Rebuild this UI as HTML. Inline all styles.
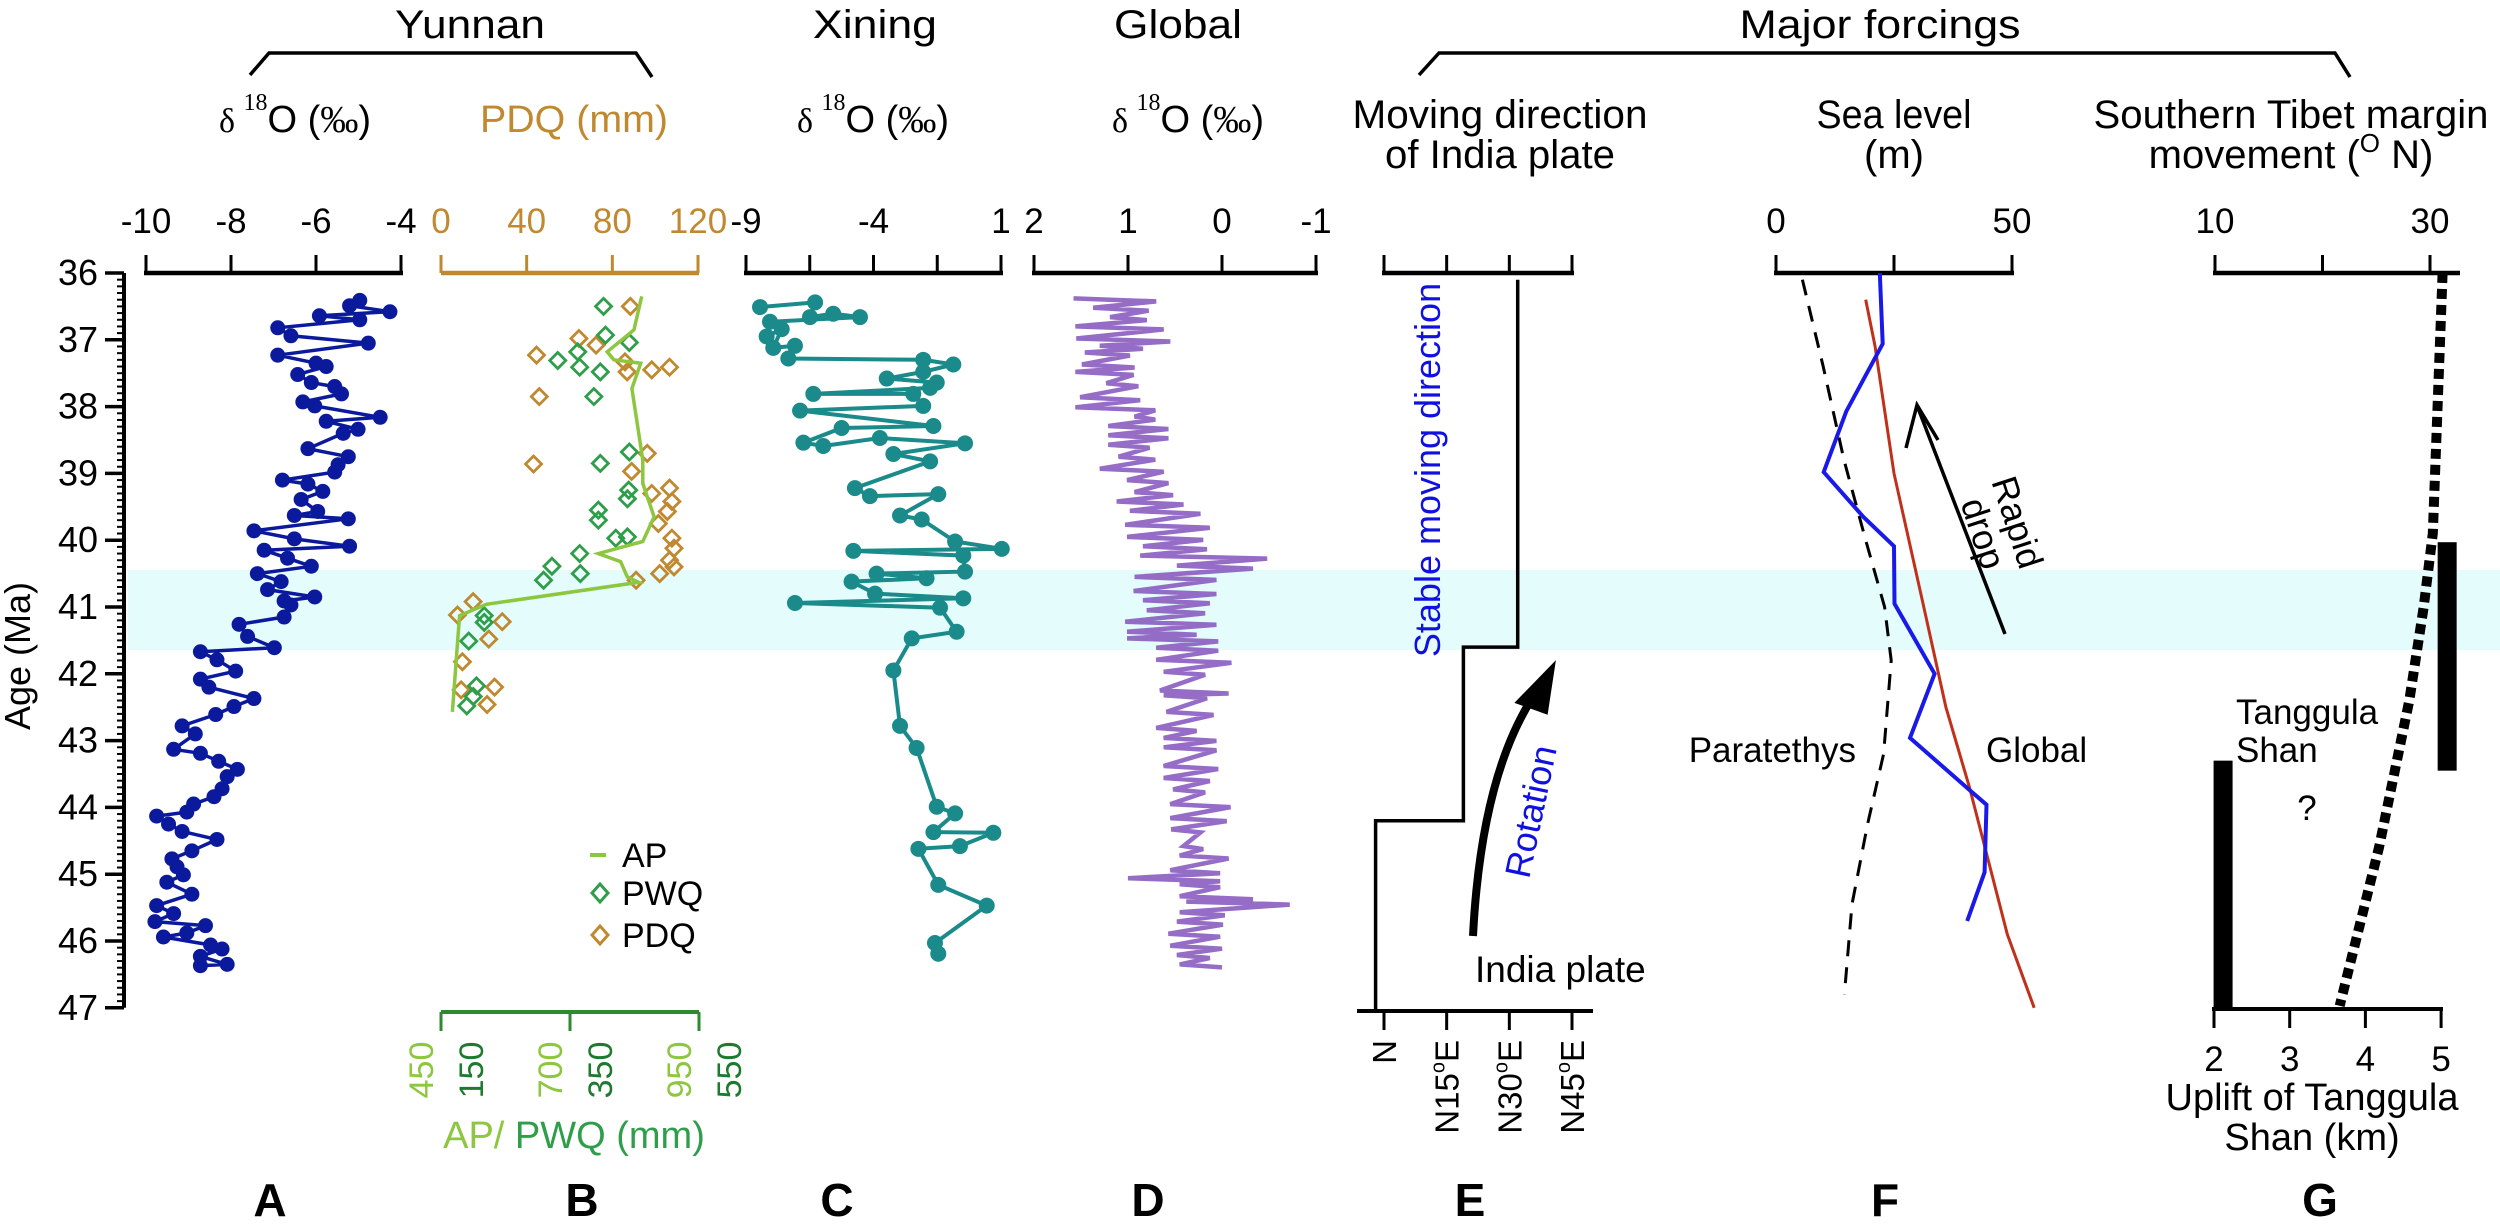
<!DOCTYPE html>
<html><head><meta charset="utf-8"><style>
html,body{margin:0;padding:0;background:#fff}
svg{display:block;font-family:"Liberation Sans",Arial,sans-serif}
.t{font-size:40px;fill:#000}
.tk{font-size:35px;fill:#000}
.lt{font-size:46px;font-weight:bold;fill:#000}
</style></head><body>
<svg id="chart" width="2500" height="1225" viewBox="0 0 2500 1225" xmlns="http://www.w3.org/2000/svg">
<rect x="128" y="570" width="2372" height="80" fill="#e4fcfc"/>
<g>
<text class="t" x="470" y="38" text-anchor="middle" textLength="150" lengthAdjust="spacingAndGlyphs">Yunnan</text>
<path d="M250,75 L269,53 L636,53 L652,77" fill="none" stroke="#000" stroke-width="3.5"/>
<text class="t" x="875" y="38" text-anchor="middle" textLength="124" lengthAdjust="spacingAndGlyphs">Xining</text>
<text class="t" x="1178" y="38" text-anchor="middle" textLength="128" lengthAdjust="spacingAndGlyphs">Global</text>
<text class="t" x="1880" y="38" text-anchor="middle" textLength="281" lengthAdjust="spacingAndGlyphs">Major forcings</text>
<path d="M1419,75 L1439,53 L2335,53 L2350,77" fill="none" stroke="#000" stroke-width="3.5"/>
<text x="295" y="132" text-anchor="middle" font-size="38"><tspan font-family="Liberation Serif" font-size="34">δ </tspan><tspan font-family="Liberation Serif" font-size="24" dy="-22">18</tspan><tspan dy="22">O (</tspan><tspan font-family="Liberation Serif">‰</tspan>)</text>
<text x="574" y="132" text-anchor="middle" font-size="38" fill="#c08930" textLength="188" lengthAdjust="spacingAndGlyphs">PDQ (mm)</text>
<text x="873" y="132" text-anchor="middle" font-size="38"><tspan font-family="Liberation Serif" font-size="34">δ </tspan><tspan font-family="Liberation Serif" font-size="24" dy="-22">18</tspan><tspan dy="22">O (</tspan><tspan font-family="Liberation Serif">‰</tspan>)</text>
<text x="1188" y="132" text-anchor="middle" font-size="38"><tspan font-family="Liberation Serif" font-size="34">δ </tspan><tspan font-family="Liberation Serif" font-size="24" dy="-22">18</tspan><tspan dy="22">O (</tspan><tspan font-family="Liberation Serif">‰</tspan>)</text>
<text class="t" x="1500" y="128" text-anchor="middle" textLength="295" lengthAdjust="spacingAndGlyphs">Moving direction</text>
<text class="t" x="1500" y="168" text-anchor="middle" textLength="230" lengthAdjust="spacingAndGlyphs">of India plate</text>
<text class="t" x="1894" y="128" text-anchor="middle" textLength="155" lengthAdjust="spacingAndGlyphs">Sea level</text>
<text class="t" x="1894" y="168" text-anchor="middle">(m)</text>
<text class="t" x="2291" y="128" text-anchor="middle" textLength="395" lengthAdjust="spacingAndGlyphs">Southern Tibet margin</text>
<text class="t" x="2291" y="168" text-anchor="middle">movement (<tspan font-size="26" dy="-16">O</tspan><tspan dy="16"> N)</tspan></text>
</g>
<g id="axes"></g>
<g id="marks"></g>
<g>
<text x="30" y="656" font-size="36" text-anchor="middle" transform="rotate(-90 30 656)">Age (Ma)</text>
<text x="1440" y="470" font-size="36" fill="#1010e0" text-anchor="middle" transform="rotate(-90 1440 470)">Stable moving direction</text>
<text x="1543" y="814" font-size="36" fill="#1010e0" text-anchor="middle" transform="rotate(-78 1543 814)">Rotation</text>
<path d="M1473,936 Q1482,760 1545,680" fill="none" stroke="#000" stroke-width="8"/>
<path d="M1553,666 L1518,702 L1546,712 Z" fill="#000" stroke="#000" stroke-width="4"/>
<text x="1475" y="982" font-size="37">India plate</text>
<line x1="2005" y1="634" x2="1918" y2="408" stroke="#000" stroke-width="3.5"/>
<path d="M1906,448 L1917,405 L1938,440" fill="none" stroke="#000" stroke-width="3.5"/>
<g transform="translate(2000,528) rotate(72)"><text x="0" y="-6" font-size="36" text-anchor="middle">Rapid</text><text x="0" y="30" font-size="36" text-anchor="middle">drop</text></g>
<text x="1856" y="762" font-size="35" text-anchor="end">Paratethys</text>
<text x="1986" y="762" font-size="35">Global</text>
<text x="2236" y="724" font-size="35">Tanggula</text>
<text x="2236" y="762" font-size="35">Shan</text>
<text x="2307" y="820" font-size="35" text-anchor="middle">?</text>
<text x="574" y="1148" font-size="38" text-anchor="middle"><tspan fill="#8dc63f">AP/ </tspan><tspan fill="#2e9e4a">PWQ (mm)</tspan></text>
<text x="2312" y="1110" font-size="38" text-anchor="middle">Uplift of Tanggula</text>
<text x="2312" y="1150" font-size="38" text-anchor="middle">Shan (km)</text>
<line x1="590" y1="855" x2="606" y2="855" stroke="#8dc63f" stroke-width="4"/>
<text x="622" y="867" font-size="34">AP</text>
<path d="M600,884 L608,893 L600,902 L592,893 Z" fill="none" stroke="#2e9e4a" stroke-width="3"/>
<text x="622" y="905" font-size="34">PWQ</text>
<path d="M600,926 L608,935 L600,944 L592,935 Z" fill="none" stroke="#c08930" stroke-width="3"/>
<text x="622" y="947" font-size="34">PDQ</text>
<text class="lt" x="270" y="1216" text-anchor="middle">A</text>
<text class="lt" x="582" y="1216" text-anchor="middle">B</text>
<text class="lt" x="837" y="1216" text-anchor="middle">C</text>
<text class="lt" x="1148" y="1216" text-anchor="middle">D</text>
<text class="lt" x="1470" y="1216" text-anchor="middle">E</text>
<text class="lt" x="1885" y="1216" text-anchor="middle">F</text>
<text class="lt" x="2320" y="1216" text-anchor="middle">G</text>
</g>
</svg>
<script>
// ---- data ----
const ageTicks=[36,37,38,39,40,41,42,43,44,45,46,47];
const aTicks=[-10,-8,-6,-4];
const pdqTicks=[0,40,80,120];
const cTicks=[-9,-6.5,-4,-1.5,1];
const cLabels=[-9,-4,1];
const dTicks=[2,1,0,-1];
const eTicks=[0,15,30,45];
const fTicks=[0,25,50];
const fLabels=[0,50];
const gTicks=[10,20,30];
const gLabels=[10,30];
const kmTicks=[2,3,4,5];
const apLabels=[450,700,950];
const pwqLabels=[150,350,550];

const aAge=[36.41,36.49,36.58,36.64,36.70,36.82,36.94,37.05,37.23,37.35,37.40,37.52,37.64,37.70,37.81,37.93,37.99,38.16,38.22,38.34,38.40,38.63,38.75,38.87,38.98,39.10,39.16,39.27,39.39,39.57,39.63,39.68,39.86,39.98,40.09,40.15,40.27,40.39,40.50,40.62,40.74,40.85,40.91,40.97,41.15,41.26,41.44,41.61,41.67,41.79,41.96,42.08,42.20,42.37,42.49,42.61,42.78,42.90,43.13,43.19,43.31,43.43,43.54,43.72,43.84,43.95,44.07,44.13,44.25,44.36,44.48,44.65,44.77,44.89,45.01,45.12,45.30,45.47,45.59,45.71,45.77,45.88,45.94,46.06,46.12,46.23,46.35,46.37];
const aVal=[-4.97,-5.21,-4.26,-5.92,-4.97,-6.90,-6.59,-4.77,-6.90,-6.00,-5.76,-6.43,-6.11,-5.56,-5.40,-6.31,-6.03,-4.49,-5.76,-5.01,-5.36,-6.19,-5.24,-5.48,-5.56,-6.79,-6.19,-5.84,-6.35,-5.96,-6.51,-5.24,-7.46,-6.51,-5.21,-7.22,-6.67,-6.11,-7.38,-6.82,-7.14,-6.03,-6.75,-6.59,-6.75,-7.81,-7.61,-6.98,-8.72,-8.33,-7.89,-8.72,-8.52,-7.46,-7.93,-8.36,-9.15,-8.84,-9.35,-8.72,-8.29,-7.85,-8.09,-8.21,-8.40,-8.88,-9.04,-9.75,-9.47,-9.15,-8.33,-8.92,-9.39,-9.27,-9.12,-9.51,-8.92,-9.75,-9.35,-9.79,-8.60,-9.04,-9.59,-8.48,-8.21,-8.72,-8.09,-8.72];

const pdqAge=[36.50,36.98,37.08,37.23,37.33,37.48,37.45,37.41,37.85,38.70,38.86,38.97,39.30,39.22,39.42,39.57,39.75,39.97,40.12,40.30,40.50,40.40,40.60,40.92,41.12,41.22,41.48,41.82,42.24,42.20,42.46];
const pdqVal=[88.4,64.4,72.4,44.6,85.9,86.9,98.4,106.7,45.9,96.3,43.2,89.0,98.4,106.7,107.8,105.7,101.5,107.8,108.8,106.7,102.1,108.8,91.1,15.0,7.7,28.6,22.3,10.0,9.4,25.0,21.5];
const pwqAge=[36.50,36.93,37.04,37.18,37.31,37.41,37.48,37.85,38.68,38.85,39.25,39.38,39.55,39.70,39.97,39.95,40.20,40.39,40.60,40.50,41.13,41.23,41.51,42.18,42.48,42.34];
const pwqVal=[402,405,442,362,331,365,397,387,442,397,441,439,394,394,421,439,365,322,309,366,217,217,193,205,190,200];
const apAge=[36.35,36.85,37.18,37.30,37.35,37.73,38.80,39.15,39.65,40.02,40.20,40.32,40.55,40.63,40.96,41.13,41.44,42.57];
const apVal=[839,824,772,785,837,820,841,841,863,841,755,798,811,833,538,486,483,472];

const cAge=[36.51,36.44,36.66,36.61,36.66,36.73,36.95,36.84,37.12,37.09,37.28,37.30,37.37,37.48,37.58,37.64,37.72,37.81,37.81,37.99,38.06,38.29,38.32,38.54,38.59,38.47,38.55,38.71,38.82,39.22,39.34,39.31,39.63,39.69,40.02,40.13,40.16,40.23,40.47,40.50,40.57,40.62,40.80,40.87,40.94,41.01,41.37,41.47,41.95,42.78,43.11,43.99,44.09,44.37,44.38,44.58,44.62,45.16,45.47,46.03,46.19];
const cVal=[-8.45,-6.29,-6.49,-5.58,-4.53,-8.06,-8.19,-7.60,-7.93,-7.08,-7.34,-2.05,-0.87,-2.05,-3.48,-1.52,-1.78,-6.36,-2.44,-2.05,-6.88,-1.65,-5.25,-6.75,-5.97,-3.75,-0.41,-3.22,-1.78,-4.73,-4.14,-1.46,-2.96,-2.11,-0.80,1.03,-4.79,-0.48,-0.41,-3.88,-1.92,-4.86,-3.94,-0.48,-7.08,-1.39,-0.74,-2.50,-3.22,-2.96,-2.31,-1.52,-0.80,-1.65,0.70,-0.61,-2.24,-1.46,0.44,-1.59,-1.46];

const dAge=[36.38,36.52,36.66,36.80,36.98,37.09,37.19,37.37,37.48,37.65,37.86,38.01,38.15,38.29,38.43,38.57,38.75,38.93,39.10,39.28,39.42,39.56,39.77,39.95,40.09,40.23,40.38,40.55,40.76,40.90,41.05,41.22,41.37,41.47,41.61,41.79,41.97,42.25,42.32,42.57,42.81,42.96,43.10,43.38,43.56,43.73,43.95,44.16,44.33,44.58,44.72,44.94,45.06,45.15,45.33,45.41,45.57,45.71,45.89,46.07,46.21,46.35];
const dLeft=[1.58,1.37,1.19,1.56,1.55,1.30,1.46,1.49,1.56,1.23,1.51,1.56,0.93,1.21,1.21,1.21,1.10,1.30,1.01,0.93,1.12,0.98,1.03,1.01,0.84,0.87,0.48,0.93,0.94,0.84,0.80,1.03,1.01,1.01,0.70,0.70,0.62,0.66,0.62,0.59,0.70,0.62,0.62,0.62,0.62,0.52,0.55,0.55,0.54,0.41,0.45,0.55,1.00,0.45,0.45,0.38,0.45,0.48,0.57,0.55,0.48,0.45];
const dRight=[0.70,0.78,0.80,0.62,0.55,0.84,0.98,0.93,0.94,0.89,0.87,0.71,0.71,0.57,0.57,0.77,0.71,0.62,0.57,0.52,0.41,0.23,0.13,0.20,0.16,-0.48,-0.33,0.06,0.06,0.13,0.18,0.06,0.27,0.04,0.04,-0.10,0.18,-0.07,0.16,0.09,0.27,0.06,0.06,0.04,0.13,0.18,-0.09,-0.05,0.23,0.20,-0.07,0.02,0.02,0.02,-0.33,-0.72,-0.03,-0.01,0.02,0.00,0.13,0.00];

const eDir=[32,32,19,19,-2,-2];
const eAge=[36.1,41.6,41.6,44.2,44.2,47.05];

const fBlueAge=[36.0,37.06,38.07,38.98,39.65,40.09,40.95,42.0,42.96,43.74,43.96,44.97,45.7];
const fBlueVal=[22,22.6,14.9,10.1,18.5,25,25.1,33.6,28.4,41,44.6,44.2,40.5];
const fRedAge=[36.4,37.1,39,40.9,42.5,43.7,45.9,47];
const fRedVal=[19,21,25,31,36,41,49,54.7];
const fDashAge=[36.1,37.4,38.8,40,41,41.8,43.2,44.25,45.45,46.8];
const fDashVal=[5.6,10,14.4,19,23,24.4,22.8,19.4,16.1,14.5];

const gDotAge=[36,39.9,41.0,42.4,44.6,46.97];
const gDotKm=[5.02,4.89,4.77,4.58,4.18,3.66];
const gBarKm=[2.12,5.08];
const gBarTop=[43.3,40.03];
const gBarBot=[47,43.45];

// ---- scales ----
const Y=a=>273+(a-36)*66.8;
const xA=v=>146+(v+10)*42.5;
const xPDQ=v=>441+v*257/120;
const xPWQ=v=>441+(v-150)*258/400;
const xAP=v=>441+(v-450)*258/500;
const xC=v=>746+(v+9)*25.5;
const xD=v=>1034+(2-v)*94;
const xE=v=>1384+v*188/45;
const xF=v=>1776+v*4.72;
const xG=v=>2215+(v-10)*10.75;
const xK=v=>2214+(v-2)*75.7;

const NS='http://www.w3.org/2000/svg';
const axes=document.getElementById('axes');
const marks=document.getElementById('marks');
function el(tag,parent,attrs){const e=document.createElementNS(NS,tag);for(const k in attrs)e.setAttribute(k,attrs[k]);parent.appendChild(e);return e;}

// y axis
let e=el('line',axes,{x1:124,y1:Y(36),x2:124,y2:Y(47),stroke:'#000','stroke-width':4});


for(let i=0;i<=110;i++){
  const a=36+i/10, major=(i%10===0);
  e=el('line',axes,{x1:major?105:117,y1:Y(a),x2:124,y2:Y(a),stroke:'#000','stroke-width':major?3.5:2});
  
  
}
ageTicks.forEach(a=>{
  e=el('text',axes,{x:98,y:Y(a)+12,'text-anchor':'end','font-size':36});
  e.textContent=a;
  
  
});

function topAxis(name,x0,x1,ticks,sc,labels,color){
  let l=el('line',axes,{x1:x0,y1:273,x2:x1,y2:273,stroke:color,'stroke-width':4.5});
  
  
  ticks.forEach(t=>{
    let k=el('line',axes,{x1:sc(t),y1:255,x2:sc(t),y2:273,stroke:color,'stroke-width':3});
    
    
  });
  labels.forEach(t=>{
    let k=el('text',axes,{x:sc(t),y:233,'text-anchor':'middle','font-size':35,fill:color});
    k.textContent=t;
    
    
  });
}
topAxis('panel-a',144,403,aTicks,xA,aTicks,'#000');
topAxis('panel-b-pdq',441,699,pdqTicks,xPDQ,pdqTicks,'#c08930');
topAxis('panel-c',744,1003,cTicks,xC,cLabels,'#000');
topAxis('panel-d',1032,1318,dTicks,xD,dTicks,'#000');
topAxis('panel-e',1382,1574,eTicks,xE,[],'#000');
topAxis('panel-f',1774,2014,fTicks,xF,fLabels,'#000');
topAxis('panel-g',2213,2460,gTicks,xG,gLabels,'#000');

// bottom axis B
e=el('line',axes,{x1:441,y1:1012,x2:699,y2:1012,stroke:'#2e8a2e','stroke-width':4});


apLabels.forEach((v,i)=>{
  const x=xAP(v);
  let k=el('line',axes,{x1:x,y1:1012,x2:x,y2:1031,stroke:'#2e8a2e','stroke-width':3});
  
  
  let t=el('text',axes,{x:x-20,y:1070,'text-anchor':'middle','font-size':34,fill:'#8dc63f',transform:'rotate(-90 '+(x-20)+' 1070)',dy:12});
  t.textContent=v;
  
  
  const xp=xPWQ(pwqLabels[i]);
  t=el('text',axes,{x:xp+30,y:1070,'text-anchor':'middle','font-size':34,fill:'#1e7a2e',transform:'rotate(-90 '+(xp+30)+' 1070)',dy:12});
  t.textContent=pwqLabels[i];
  
  
});

// bottom axis E
e=el('line',axes,{x1:1357,y1:1011,x2:1593,y2:1011,stroke:'#000','stroke-width':4});


const eLab=[['N',''],['N15','E'],['N30','E'],['N45','E']];
eTicks.forEach((v,i)=>{
  const x=xE(v);
  let k=el('line',axes,{x1:x,y1:1011,x2:x,y2:1030,stroke:'#000','stroke-width':3});
  
  
  let t=el('text',axes,{x:x,y:1040,'text-anchor':'end','font-size':33,transform:'rotate(-90 '+x+' 1040)',dy:12});
  t.textContent=eLab[i][0];
  if(eLab[i][1]){
    const s=el('tspan',t,{'font-size':20,dy:-14});s.textContent='o';
    const s2=el('tspan',t,{dy:14});s2.textContent='E';
  }
  
  
});

// bottom axis G
e=el('line',axes,{x1:2212,y1:1009,x2:2443,y2:1009,stroke:'#000','stroke-width':4});


kmTicks.forEach(v=>{
  const x=xK(v);
  let k=el('line',axes,{x1:x,y1:1009,x2:x,y2:1028,stroke:'#000','stroke-width':3});
  
  
  let t=el('text',axes,{x:x,y:1071,'text-anchor':'middle','font-size':35});
  t.textContent=v;
  
  
});

function pathFrom(xs,ys){return xs.map((x,i)=>(i?'L':'M')+x.toFixed(1)+','+ys[i].toFixed(1)).join(' ');}

// Panel A
e=el('path',marks,{d:pathFrom(aVal.map(xA),aAge.map(Y)),fill:'none',stroke:'#0b1a9c','stroke-width':3.5});


aVal.forEach((v,i)=>{
  const c=el('circle',marks,{cx:xA(v),cy:Y(aAge[i]),r:7.5,fill:'#0b1a9c'});
  
  
});

// Panel B
function diamond(x,y,col,name){
  const d=el('path',marks,{d:`M${x},${y-8} L${x+8},${y} L${x},${y+8} L${x-8},${y} Z`,fill:'none',stroke:col,'stroke-width':2.8});
  
  
}
pdqVal.forEach((v,i)=>diamond(xPDQ(v),Y(pdqAge[i]),'#c08930','pdq-point'));
pwqVal.forEach((v,i)=>diamond(xPWQ(v),Y(pwqAge[i]),'#2e9e4a','pwq-point'));
e=el('path',marks,{d:pathFrom(apVal.map(xAP),apAge.map(Y)),fill:'none',stroke:'#8dc63f','stroke-width':3.5});



// Panel C
e=el('path',marks,{d:pathFrom(cVal.map(xC),cAge.map(Y)),fill:'none',stroke:'#1a8a8a','stroke-width':4});


cVal.forEach((v,i)=>{
  const c=el('circle',marks,{cx:xC(v),cy:Y(cAge[i]),r:8,fill:'#1a8a8a'});
  
  
});

// Panel D
let dd='';
dAge.forEach((a,i)=>{dd+=(i?'L':'M')+xD(dLeft[i]).toFixed(1)+','+Y(a).toFixed(1)+' L'+xD(dRight[i]).toFixed(1)+','+(Y(a)+3).toFixed(1)+' ';});
e=el('path',marks,{d:dd,fill:'none',stroke:'#8a5cc0','stroke-width':4.5,'stroke-opacity':0.9});



// Panel E
e=el('path',marks,{d:pathFrom(eDir.map(xE),eAge.map(Y)),fill:'none',stroke:'#000','stroke-width':3.5});



// Panel F
e=el('path',marks,{d:pathFrom(fDashVal.map(xF),fDashAge.map(Y)),fill:'none',stroke:'#000','stroke-width':3,'stroke-dasharray':'16 11'});


e=el('path',marks,{d:pathFrom(fRedVal.map(xF),fRedAge.map(Y)),fill:'none',stroke:'#c0301a','stroke-width':3});


e=el('path',marks,{d:pathFrom(fBlueVal.map(xF),fBlueAge.map(Y)),fill:'none',stroke:'#1a1ae8','stroke-width':4});



// Panel G
gBarKm.forEach((k,i)=>{
  const r=el('rect',marks,{x:xK(k)-9.5,y:Y(gBarTop[i]),width:19,height:Y(gBarBot[i])-Y(gBarTop[i]),fill:'#000'});
  
  
});
e=el('path',marks,{d:pathFrom(gDotKm.map(xK),gDotAge.map(Y)),fill:'none',stroke:'#000','stroke-width':10,'stroke-dasharray':'10 6'});


</script>
</body></html>
